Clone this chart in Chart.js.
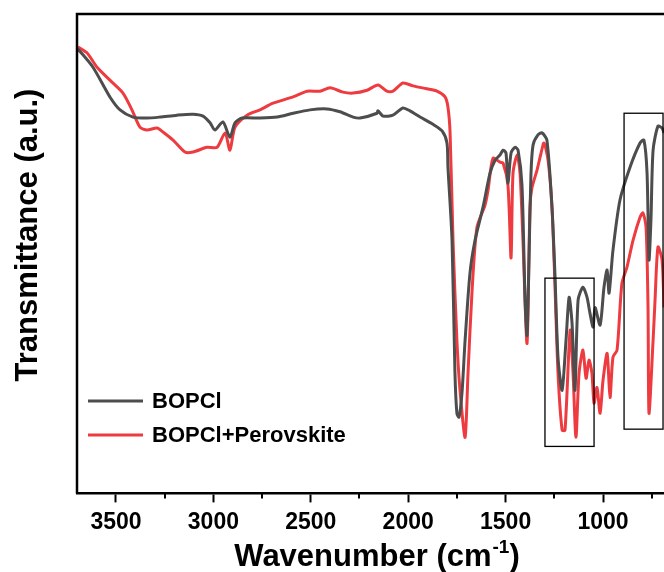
<!DOCTYPE html>
<html>
<head>
<meta charset="utf-8">
<script src="https://cdn.jsdelivr.net/npm/chart.js@4.4.0/dist/chart.umd.min.js"></script>
<style>
  html, body { margin: 0; padding: 0; background: #fff; }
  #wrap { width: 664px; height: 572px; }
</style>
</head>
<body>
<div id="wrap"><canvas id="ftir" width="664" height="572"></canvas></div>
<script>
// wavenumber (cm-1) and transmittance (a.u.)
const bopclWn = [3695, 3618, 3531, 3479, 3413, 3341, 3274, 3187, 3105, 3053, 3017, 2992, 2951, 2915, 2889, 2853, 2761, 2673, 2591, 2504, 2417, 2350, 2283, 2247, 2160, 2155, 2129, 2078, 2027, 1991, 1939, 1873, 1826, 1801, 1796, 1775, 1760, 1750, 1739, 1724, 1708, 1683, 1657, 1616, 1580, 1554, 1529, 1513, 1498, 1488, 1472, 1452, 1436, 1416, 1400, 1390, 1380, 1370, 1359, 1334, 1313, 1288, 1262, 1247, 1231, 1210, 1190, 1174, 1159, 1144, 1128, 1103, 1082, 1067, 1051, 1041, 1015, 995, 979, 969, 949, 913, 861, 810, 790, 774, 764, 754, 743, 718, 697, 687];
const bopclT = [92.7, 88.9, 82.7, 80.0, 78.5, 78.3, 78.5, 78.9, 79.1, 78.7, 77.3, 75.8, 77.5, 74.3, 77.3, 78.3, 78.3, 78.5, 79.3, 80.0, 80.2, 79.6, 78.5, 78.3, 79.3, 79.8, 78.7, 78.9, 80.4, 79.8, 78.5, 77.0, 75.6, 73.1, 68.1, 52.8, 25.1, 16.7, 15.9, 20.9, 31.9, 45.9, 52.8, 59.7, 66.8, 69.5, 70.6, 71.6, 71.0, 64.7, 71.0, 72.2, 71.6, 64.3, 40.3, 33.0, 48.7, 66.4, 72.7, 74.8, 75.2, 73.7, 59.7, 45.9, 28.4, 21.5, 31.9, 40.9, 35.5, 21.5, 40.3, 43.0, 40.9, 37.6, 34.7, 38.8, 35.1, 43.0, 46.6, 41.8, 50.7, 61.2, 68.1, 73.1, 73.7, 66.8, 48.7, 57.0, 71.6, 76.6, 76.2, 75.2];

const perovWn = [3695, 3649, 3597, 3531, 3464, 3418, 3377, 3341, 3289, 3259, 3207, 3146, 3105, 3033, 2981, 2940, 2915, 2889, 2827, 2761, 2694, 2591, 2519, 2453, 2401, 2335, 2283, 2211, 2155, 2109, 2078, 2027, 1975, 1904, 1852, 1811, 1796, 1785, 1770, 1750, 1734, 1708, 1693, 1672, 1647, 1606, 1590, 1565, 1529, 1513, 1488, 1472, 1462, 1441, 1426, 1411, 1390, 1375, 1365, 1339, 1318, 1303, 1282, 1262, 1247, 1231, 1210, 1195, 1169, 1154, 1139, 1123, 1103, 1087, 1072, 1057, 1046, 1031, 1015, 1000, 979, 964, 949, 928, 903, 877, 846, 810, 795, 779, 769, 764, 743, 733, 718, 697, 687];
const perovT = [93.1, 91.9, 88.9, 86.2, 83.5, 80.0, 76.4, 75.8, 76.2, 75.4, 73.7, 71.2, 71.2, 72.2, 72.2, 75.2, 71.6, 76.4, 78.9, 80.0, 81.4, 82.7, 83.9, 83.9, 84.6, 83.7, 83.5, 84.1, 85.2, 83.9, 83.9, 85.6, 85.0, 84.4, 83.9, 82.7, 80.6, 75.2, 52.8, 31.9, 21.5, 11.7, 25.1, 42.4, 55.5, 60.1, 63.3, 69.9, 69.1, 68.9, 64.3, 49.1, 66.8, 70.6, 66.8, 52.8, 31.3, 59.7, 63.7, 67.4, 71.0, 73.1, 69.5, 59.7, 43.8, 25.1, 13.2, 13.2, 34.0, 25.1, 11.7, 25.1, 29.9, 24.0, 27.8, 25.1, 18.8, 22.1, 16.7, 23.6, 29.2, 20.0, 28.4, 29.9, 43.8, 47.2, 52.8, 57.6, 58.5, 55.5, 38.8, 16.7, 31.9, 40.3, 51.4, 48.7, 38.8];

const seriesNames = ['BOPCl', 'BOPCl+Perovskite'];
const seriesColors = ['#4d4d4d', '#ee3b40'];

const xTicks = [3500, 3000, 2500, 2000, 1500, 1000];
const xMinorTicks = [3250, 2750, 2250, 1750, 1250, 750];

// the two marked regions: [wn from, wn to, T low, T high]
const boxes = [
    [1298, 1046, 9.8, 44.9],
    [892, 692, 13.4, 79.3]
];

const FONT = '"Liberation Sans", Arial, sans-serif';

function toPoints(xs, ys) {
    return xs.map((x, i) => ({ x: x, y: ys[i] }));
}

// frame, minor ticks, boxes, legend and axis titles
const decor = {
    id: 'decor',
    afterDraw(chart) {
        const ctx = chart.ctx;
        const a = chart.chartArea;
        const xs = chart.scales.x;
        const ys = chart.scales.y;
        ctx.save();

        // frame (left + top)
        ctx.strokeStyle = '#000';
        ctx.lineWidth = 2.5;
        ctx.beginPath();
        ctx.moveTo(a.left, a.bottom);
        ctx.lineTo(a.left, a.top);
        ctx.lineTo(chart.width, a.top);
        ctx.stroke();

        // minor ticks
        ctx.lineWidth = 2;
        xMinorTicks.forEach(v => {
            const px = Math.round(xs.getPixelForValue(v));
            ctx.beginPath();
            ctx.moveTo(px, a.bottom);
            ctx.lineTo(px, a.bottom + 5);
            ctx.stroke();
        });

        // boxes
        ctx.lineWidth = 1.3;
        boxes.forEach(b => {
            const x1 = xs.getPixelForValue(b[0]);
            const x2 = xs.getPixelForValue(b[1]);
            const y1 = ys.getPixelForValue(b[3]);
            const y2 = ys.getPixelForValue(b[2]);
            ctx.strokeRect(x1, y1, x2 - x1, y2 - y1);
        });

        // legend
        ctx.font = 'bold 22px ' + FONT;
        ctx.textBaseline = 'middle';
        ctx.fillStyle = '#000';
        seriesNames.forEach((name, i) => {
            const y = 401 + i * 34;
            ctx.strokeStyle = seriesColors[i];
            ctx.lineWidth = 3;
            ctx.beginPath();
            ctx.moveTo(88, y);
            ctx.lineTo(143, y);
            ctx.stroke();
            ctx.fillText(name, 152, y + 1);
        });

        // x title with superscript
        ctx.textBaseline = 'alphabetic';
        const main = 'Wavenumber (cm';
        const sup = '-1';
        ctx.font = 'bold 31px ' + FONT;
        const w1 = ctx.measureText(main).width;
        const w3 = ctx.measureText(')').width;
        ctx.font = 'bold 19px ' + FONT;
        const w2 = ctx.measureText(sup).width;
        const cx = (a.left + a.right) / 2 + 6;
        let x0 = cx - (w1 + w2 + w3) / 2;
        ctx.font = 'bold 31px ' + FONT;
        ctx.fillText(main, x0, 566);
        ctx.font = 'bold 19px ' + FONT;
        ctx.fillText(sup, x0 + w1 + 1, 553);
        ctx.font = 'bold 31px ' + FONT;
        ctx.fillText(')', x0 + w1 + w2 + 1, 566);

        // y title
        ctx.translate(37, 235);
        ctx.rotate(-Math.PI / 2);
        ctx.textAlign = 'center';
        ctx.fillText('Transmittance (a.u.)', 0, 0);

        ctx.restore();
    }
};

new Chart(document.getElementById('ftir'), {
    type: 'line',
    data: {
        datasets: [
            {
                label: seriesNames[0],
                data: toPoints(bopclWn, bopclT),
                borderColor: seriesColors[0],
                borderWidth: 3,
                pointRadius: 0,
                tension: 0.25,
                fill: false
            },
            {
                label: seriesNames[1],
                data: toPoints(perovWn, perovT),
                borderColor: seriesColors[1],
                borderWidth: 3,
                pointRadius: 0,
                tension: 0.25,
                fill: false
            }
        ]
    },
    options: {
        responsive: false,
        animation: false,
        layout: { padding: { left: 77, top: 14, right: 0, bottom: 30 } },
        plugins: {
            legend: { display: false },
            tooltip: { enabled: false }
        },
        scales: {
            x: {
                type: 'linear',
                reverse: true,
                min: 687,
                max: 3700,
                afterBuildTicks: (scale) => {
                    scale.ticks = xTicks.map(v => ({ value: v }));
                },
                grid: {
                    drawOnChartArea: false,
                    drawTicks: true,
                    tickLength: 9,
                    tickWidth: 2,
                    tickColor: '#000'
                },
                border: { display: true, color: '#000', width: 2.5 },
                ticks: {
                    maxRotation: 0,
                    autoSkip: false,
                    padding: 6,
                    color: '#000',
                    font: { family: FONT, size: 23, weight: 'bold' },
                    callback: (v) => String(v)
                }
            },
            y: {
                display: false,
                min: 0,
                max: 100
            }
        }
    },
    plugins: [decor]
});
</script>
</body>
</html>
